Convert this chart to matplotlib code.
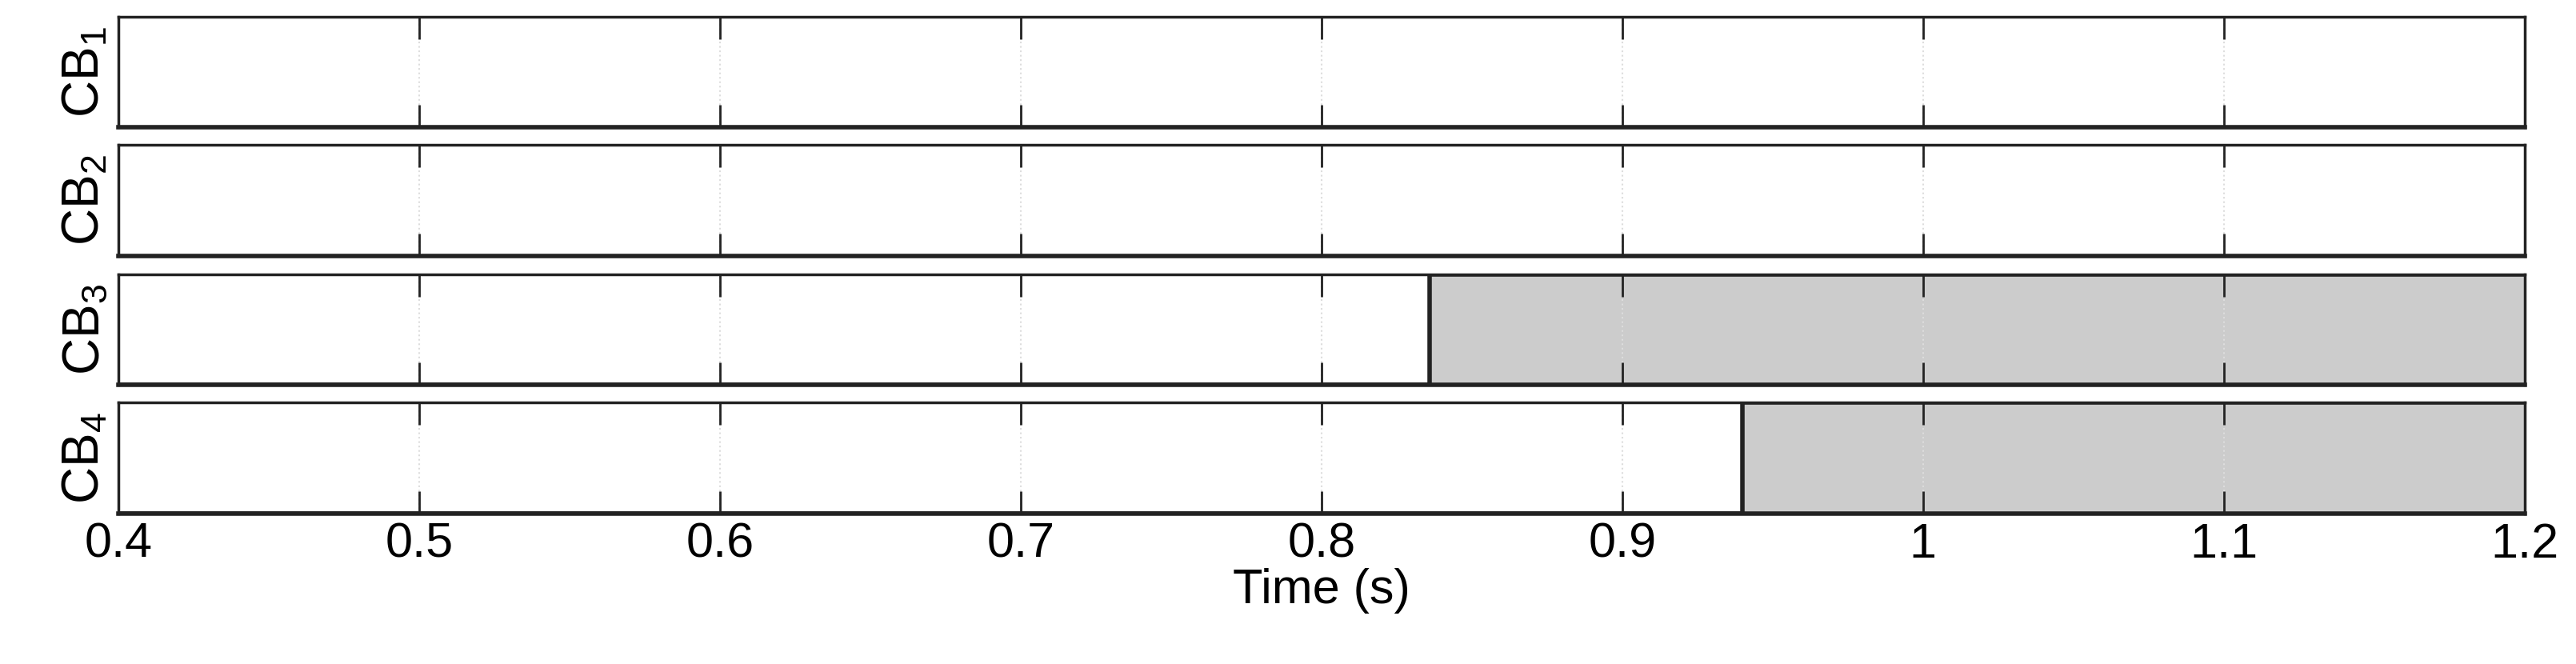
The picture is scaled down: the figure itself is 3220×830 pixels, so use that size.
import numpy as np
import matplotlib.pyplot as plt

# breaker trip states (0 = closed, 1 = open) over time
labels = ["CB$_1$", "CB$_2$", "CB$_3$", "CB$_4$"]
trip_times = [None, None, 0.836, 0.940]
t_start, t_end = 0.4, 1.2
xticks = [0.4, 0.5, 0.6, 0.7, 0.8, 0.9, 1.0, 1.1, 1.2]
xticklabels = ["0.4", "0.5", "0.6", "0.7", "0.8", "0.9", "1", "1.1", "1.2"]

plt.rcParams['font.family'] = ['Liberation Sans', 'DejaVu Sans']
plt.rcParams['mathtext.fontset'] = 'custom'
plt.rcParams['mathtext.rm'] = 'Liberation Sans'
plt.rcParams['mathtext.default'] = 'regular'
fig = plt.figure(figsize=(32.2, 8.3), dpi=100)

tops = [0.975, 0.782, 0.587, 0.394]
h = 0.167
for i, (lab, tt) in enumerate(zip(labels, trip_times)):
    ax = fig.add_axes([0.046, tops[i] - h, 0.934, h])
    if tt is not None:
        t = np.array([t_start, tt, t_end])
        s = np.array([0, 1, 1])
        ax.fill_between(t, s, step="post", color="#cccccc", lw=0)
        ax.step(t, s, where="post", color="#222222", lw=4)
    ax.set_xlim(t_start, t_end)
    ax.set_ylim(0, 1)
    ax.set_yticks([])
    ax.set_xticks(xticks)
    ax.grid(axis="x", color="#dddddd", ls=":", lw=1.5)
    ax.tick_params(axis="x", direction="in", top=True, length=20, width=2,
                   labelsize=44, color="#222222")
    if i < 3:
        ax.set_xticklabels([])
    else:
        ax.set_xticklabels(xticklabels)
        ax.tick_params(axis="x", pad=8)
        ax.set_xlabel("Time (s)", fontsize=44, labelpad=0)
    for sp in ax.spines.values():
        sp.set_linewidth(2.5)
        sp.set_color("#222222")
    ax.spines["bottom"].set_linewidth(4)
    ax.set_ylabel(lab, fontsize=46, labelpad=8)

fig.savefig("out.png", dpi=100)
